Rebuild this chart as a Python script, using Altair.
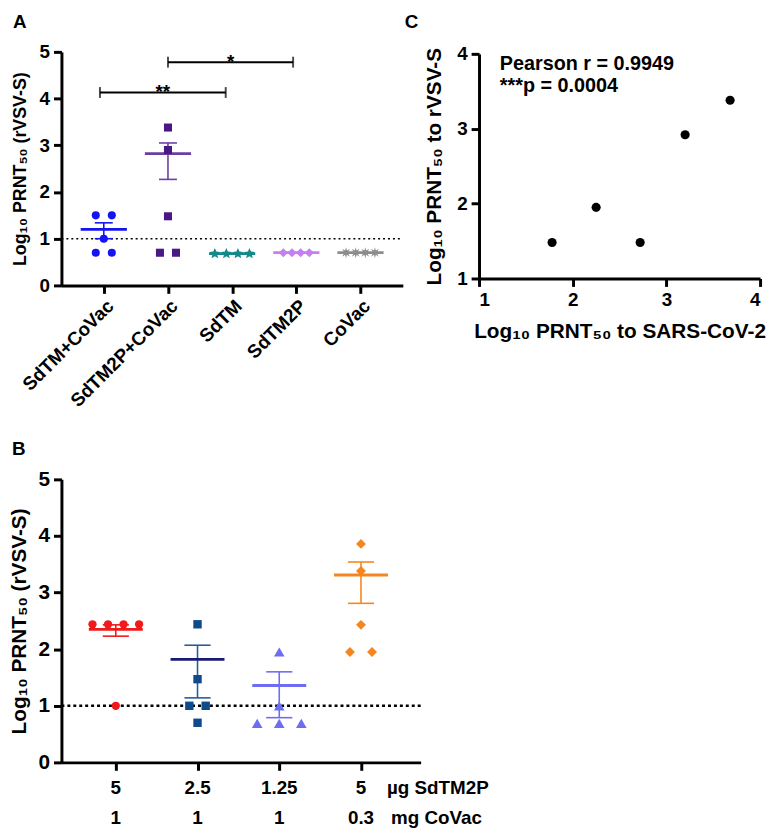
import math
import altair as alt
import pandas as pd

FONT = "Liberation Sans"

# ---------------- data ----------------
# Panel A
a_groups = ["SdTM+CoVac", "SdTM2P+CoVac", "SdTM", "SdTM2P", "CoVac"]
a_sdtm_covac = [1.5, 1.5, 1.0, 0.7, 0.7]
a_sdtm2p_covac = [3.38, 2.9, 1.48, 0.7, 0.7]
a_sdtm = [0.68, 0.68, 0.68, 0.68]
a_sdtm2p = [0.7, 0.7, 0.7, 0.7]
a_covac = [0.7, 0.7, 0.7, 0.7]
a_mean = [1.2, 2.82, 0.68, 0.7, 0.7]
a_sem_hi = [1.34, 3.05, 0.68, 0.7, 0.7]
a_sem_lo = [1.0, 2.27, 0.68, 0.7, 0.7]
a_limit = [1.0]
a_bracket_from = [0.94, 2.0]
a_bracket_to = [2.9, 3.95]
a_bracket_y = [4.13, 4.78]
a_bracket_text = ["**", "*"]
a_yticks = [0, 1, 2, 3, 4, 5]

# Panel B
b_sdtm2p_dose = ["5", "2.5", "1.25", "5"]
b_covac_dose = ["1", "1", "1", "0.3"]
b_g1 = [2.44, 2.44, 2.44, 2.44, 1.0]
b_g2 = [2.44, 1.47, 1.0, 1.0, 0.7]
b_g3 = [1.95, 1.0, 0.69, 0.69, 0.69]
b_g4 = [3.86, 3.38, 2.43, 1.95, 1.95]
b_mean = [2.35, 1.82, 1.36, 3.31]
b_sem_hi = [2.43, 2.07, 1.6, 3.54]
b_sem_lo = [2.23, 1.14, 0.79, 2.81]
b_limit = [1.0]
b_unit1 = "µg SdTM2P"
b_unit2 = "mg CoVac"

# Panel C
c_x = [1.78, 2.25, 2.72, 3.2, 3.68]
c_y = [1.48, 1.95, 1.48, 2.92, 3.38]
c_stat1 = "Pearson r = 0.9949"
c_stat2 = "***p =  0.0004"
c_ticks = [1, 2, 3, 4]

# ---------------- styles ----------------
def star_path(n, inner):
    pts = []
    for i in range(2 * n):
        ang = -math.pi / 2 + i * math.pi / n
        r = 1.0 if i % 2 == 0 else inner
        pts.append(f"{r * math.cos(ang):.3f},{r * math.sin(ang):.3f}")
    return "M" + "L".join(pts) + "Z"

STAR = star_path(5, 0.45)
ASTER = star_path(8, 0.42)

A_PT_COLORS = ["#1414f0", "#4a1784", "#14898a", "#c77ff0", "#8c8c8c"]
A_LN_COLORS = ["#1414f0", "#6c3ea2", "#14898a", "#c77ff0", "#8c8c8c"]
A_SHAPES = ["circle", "square", STAR, "diamond", ASTER]
A_SIZES = [66, 66, 130, 85, 125]
A_SPACING = [0.25, 0.25, 0.18, 0.135, 0.15]
A_MEAN_HW, A_CAP_HW = 0.36, 0.14

B_PT_COLORS = ["#f01a1a", "#0f4a8a", "#6d6df2", "#f5861f"]
B_MEAN_COLORS = ["#f01a1a", "#1a1a72", "#6d6df2", "#f5861f"]
B_ERR_COLORS = ["#f01a1a", "#2a5a98", "#6d6df2", "#f5861f"]
B_SHAPES = ["circle", "square", "triangle-up", "diamond"]
B_SIZES = [70, 72, 115, 100]
B_SPACING = [0.19, 0.2, 0.27, 0.27]
B_MEAN_HW, B_CAP_HW = 0.33, 0.16

# pixel geometry of the three plot areas (chart coordinates)
XA = alt.Scale(domain=[0.34, 5.66], range=[54, 399], nice=False, zero=False)
YA = alt.Scale(domain=[0, 5], range=[276, 40], nice=False, zero=False)
XB = alt.Scale(domain=[0.335, 4.73], range=[54, 417], nice=False, zero=False)
YB = alt.Scale(domain=[0, 5], range=[758, 472], nice=False, zero=False)
XC = alt.Scale(domain=[1, 4], range=[476, 760], nice=False, zero=False)
YC = alt.Scale(domain=[1, 4], range=[269, 42], nice=False, zero=False)
H = 824

AX = dict(domainColor="black", domainWidth=3, tickColor="black", tickWidth=3,
          tickSize=8, labelFont=FONT, labelFontWeight="bold", labelColor="black",
          titleFont=FONT, titleFontWeight="bold", titleColor="black", grid=False,
          labelOverlap=False)


def spread(values, spacing):
    counts, seen, offs = {}, {}, []
    for v in values:
        counts[v] = counts.get(v, 0) + 1
    for v in values:
        n, i = counts[v], seen.get(v, 0)
        seen[v] = i + 1
        offs.append((i - (n - 1) / 2) * spacing)
    return offs


def point_table(groups, colors, shapes, sizes, spacing):
    rows = []
    for gi, vals in enumerate(groups):
        for v, o in zip(vals, spread(vals, spacing[gi])):
            rows.append(dict(x=gi + 1 + o, y=v, color=colors[gi],
                             shape=shapes[gi], size=sizes[gi]))
    return pd.DataFrame(rows)


def err_table(mean, hi, lo, mcol, ecol, hw, cw):
    rows = []
    for i in range(len(mean)):
        c = i + 1
        rows.append(dict(c=c, m=mean[i], hi=hi[i], lo=lo[i], mcol=mcol[i],
                         ecol=ecol[i], m1=c - hw, m2=c + hw, c1=c - cw, c2=c + cw))
    return pd.DataFrame(rows)


def err_layers(df, xs, ys, mean_w):
    base = alt.Chart(df)
    col_e = alt.Color("ecol:N", scale=None)
    return [
        base.mark_rule(strokeWidth=1.6).encode(
            x=alt.X("c:Q", scale=xs, axis=None), y=alt.Y("lo:Q", scale=ys, axis=None),
            y2="hi:Q", color=col_e),
        base.mark_rule(strokeWidth=1.6).encode(
            x=alt.X("c1:Q", scale=xs, axis=None), x2="c2:Q",
            y=alt.Y("hi:Q", scale=ys, axis=None), color=col_e),
        base.mark_rule(strokeWidth=1.6).encode(
            x=alt.X("c1:Q", scale=xs, axis=None), x2="c2:Q",
            y=alt.Y("lo:Q", scale=ys, axis=None), color=col_e),
        base.mark_rule(strokeWidth=mean_w).encode(
            x=alt.X("m1:Q", scale=xs, axis=None), x2="m2:Q",
            y=alt.Y("m:Q", scale=ys, axis=None), color=alt.Color("mcol:N", scale=None)),
    ]


def text_layer(txt, xp, yp, size, align="left"):
    return alt.Chart(pd.DataFrame({"t": [txt]})).mark_text(
        font=FONT, fontWeight="bold", fontSize=size, align=align,
        baseline="alphabetic", color="black").encode(
        x=alt.value(xp), y=alt.value(yp), text="t:N")


layers = []

# ---------------- Panel A ----------------
a_pts = point_table([a_sdtm_covac, a_sdtm2p_covac, a_sdtm, a_sdtm2p, a_covac],
                    A_PT_COLORS, A_SHAPES, A_SIZES, A_SPACING)
a_err = err_table(a_mean, a_sem_hi, a_sem_lo, A_LN_COLORS, A_LN_COLORS, A_MEAN_HW, A_CAP_HW)
label_expr = "[" + ",".join(f"'{g}'" for g in a_groups) + "][datum.value - 1]"

layers.append(alt.Chart(pd.DataFrame({"y": a_limit})).mark_rule(
    color="black", strokeWidth=1.5, strokeDash=[2, 3]).encode(
    x=alt.value(54), x2=alt.value(399), y=alt.Y("y:Q", scale=YA, axis=None)))
layers += err_layers(a_err, XA, YA, 2.8)
layers.append(alt.Chart(a_pts).mark_point(filled=True, opacity=1).encode(
    x=alt.X("x:Q", scale=XA, axis=alt.Axis(
        orient="bottom", offset=276 - H, values=[1, 2, 3, 4, 5],
        labelExpr=label_expr, labelAngle=315, labelAlign="right",
        labelBaseline="top", labelPadding=3, labelFontSize=19, title=None, **AX)),
    y=alt.Y("y:Q", scale=YA, axis=alt.Axis(
        orient="left", offset=-54, values=a_yticks, labelPadding=4, labelFontSize=19,
        title="Log₁₀ PRNT₅₀ (rVSV-S)", titleFontSize=18, titlePadding=10, **AX)),
    color=alt.Color("color:N", scale=None),
    shape=alt.Shape("shape:N", scale=None),
    size=alt.Size("size:Q", scale=None)))

a_br = pd.DataFrame({"x1": a_bracket_from, "x2": a_bracket_to, "y": a_bracket_y,
                     "t": a_bracket_text})
a_br["xm"] = (a_br["x1"] + a_br["x2"]) / 2
layers.append(alt.Chart(a_br).mark_rule(color="black", strokeWidth=2).encode(
    x=alt.X("x1:Q", scale=XA, axis=None), x2="x2:Q",
    y=alt.Y("y:Q", scale=YA, axis=None)))
for col in ["x1", "x2"]:
    layers.append(alt.Chart(a_br).mark_tick(orient="vertical", size=11, thickness=2,
                                            color="black").encode(
        x=alt.X(f"{col}:Q", scale=XA, axis=None), y=alt.Y("y:Q", scale=YA, axis=None)))
layers.append(alt.Chart(a_br).mark_text(font=FONT, fontWeight="bold", fontSize=19,
                                        dy=6, baseline="alphabetic", color="black").encode(
    x=alt.X("xm:Q", scale=XA, axis=None), y=alt.Y("y:Q", scale=YA, axis=None), text="t:N"))

# ---------------- Panel B ----------------
b_pts = point_table([b_g1, b_g2, b_g3, b_g4], B_PT_COLORS, B_SHAPES, B_SIZES, B_SPACING)
b_err = err_table(b_mean, b_sem_hi, b_sem_lo, B_MEAN_COLORS, B_ERR_COLORS, B_MEAN_HW, B_CAP_HW)
layers.append(alt.Chart(pd.DataFrame({"y": b_limit})).mark_rule(
    color="black", strokeWidth=2.5, strokeDash=[3, 3]).encode(
    x=alt.value(54), x2=alt.value(417), y=alt.Y("y:Q", scale=YB, axis=None)))
layers += err_layers(b_err, XB, YB, 3)
layers.append(alt.Chart(b_pts).mark_point(filled=True, opacity=1).encode(
    x=alt.X("x:Q", scale=XB, axis=alt.Axis(
        orient="bottom", offset=758 - H, values=[1, 2, 3, 4], labels=False,
        title=None, **AX)),
    y=alt.Y("y:Q", scale=YB, axis=alt.Axis(
        orient="left", offset=-54, values=a_yticks, labelPadding=4, labelFontSize=21,
        title="Log₁₀ PRNT₅₀ (rVSV-S)", titleFontSize=21, titlePadding=9, **AX)),
    color=alt.Color("color:N", scale=None),
    shape=alt.Shape("shape:N", scale=None),
    size=alt.Size("size:Q", scale=None)))

b_lab = pd.DataFrame({"x": [1, 2, 3, 4], "t1": b_sdtm2p_dose, "t2": b_covac_dose})
for col, ypix in [("t1", 790), ("t2", 820)]:
    layers.append(alt.Chart(b_lab).mark_text(font=FONT, fontWeight="bold", fontSize=19,
                                             baseline="alphabetic", color="black").encode(
        x=alt.X("x:Q", scale=XB, axis=None), y=alt.value(ypix), text=f"{col}:N"))
layers.append(text_layer(b_unit1, 383, 790, 19))
layers.append(text_layer(b_unit2, 387, 820, 19))

# ---------------- Panel C ----------------
c_df = pd.DataFrame({"x": c_x, "y": c_y})
layers.append(alt.Chart(c_df).mark_circle(size=85, color="black", opacity=1).encode(
    x=alt.X("x:Q", scale=XC, axis=alt.Axis(
        orient="bottom", offset=269 - H, values=c_ticks, labelPadding=4, labelFontSize=19,
        title="Log₁₀ PRNT₅₀ to SARS-CoV-2", titleFontSize=21, titlePadding=12, **AX)),
    y=alt.Y("y:Q", scale=YC, axis=alt.Axis(
        orient="left", offset=-476, values=c_ticks, labelPadding=4, labelFontSize=19,
        title="Log₁₀ PRNT₅₀ to rVSV-S", titleFontSize=21, titlePadding=12, **AX))))
layers.append(text_layer(c_stat1, 497, 58, 20))
layers.append(text_layer(c_stat2, 497, 81, 20))

# ---------------- panel letters ----------------
layers.append(text_layer("A", 5, 16, 19))
layers.append(text_layer("C", 401, 16, 19))
layers.append(text_layer("B", 4, 447, 19))

chart = alt.layer(*layers).resolve_scale(
    x="independent", y="independent", color="independent",
    shape="independent", size="independent").properties(
    width=767, height=H, autosize=alt.AutoSizeParams(type="none"), padding=0
).configure_view(stroke=None)

chart.save("out.html", embed_options={"renderer": "svg", "actions": False})
